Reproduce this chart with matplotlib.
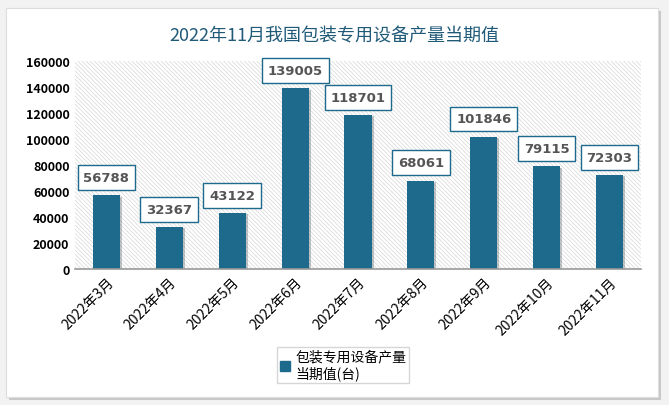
"""Build figure
"""
import matplotlib
matplotlib.use('Agg')
import matplotlib.pyplot as plt
import matplotlib.patches as mpatches
import matplotlib.patheffects as pe

plt.rcParams['font.family'] = ['Noto Sans CJK SC', 'DejaVu Sans']
plt.rcParams['hatch.linewidth'] = 0.5

months = ['2022年3月', '2022年4月', '2022年5月', '2022年6月', '2022年7月',
          '2022年8月', '2022年9月', '2022年10月', '2022年11月']
values = [56788, 32367, 43122, 139005, 118701, 68061, 101846, 79115, 72303]
yticks = [0, 20000, 40000, 60000, 80000, 100000, 120000, 140000, 160000]

bar_color = '#1d6a8d'

fig = plt.figure(figsize=(6.69, 4.06), dpi=100)
fig.patch.set_facecolor('#f2f2f2')
# white card with soft shadow
card = mpatches.Rectangle((6 / 669, 1 - 398 / 406), 652 / 669, 389 / 406,
                          transform=fig.transFigure, facecolor='white',
                          edgecolor='#dddddd', lw=0.8, zorder=-5,
                          path_effects=[pe.SimplePatchShadow(offset=(2, -2), alpha=0.25),
                                        pe.Normal()])
fig.patches.append(card)

ax = fig.add_axes([75 / 669, 1 - 270 / 406, 566 / 669, 208 / 406])
ax.set_zorder(1)
ax.set_facecolor('white')
# hatched plot area
bg = mpatches.Rectangle((0, 0), 1, 1, transform=ax.transAxes, facecolor='white',
                        edgecolor='#d6d6d6', hatch='\\' * 8, lw=0, zorder=0)
ax.add_patch(bg)

x = range(len(months))
bars = ax.bar(x, values, width=0.43, color=bar_color, zorder=2,
              path_effects=[pe.SimplePatchShadow(offset=(1.5, -1), alpha=0.25),
                            pe.Normal()])

for xi, v in zip(x, values):
    ax.annotate(str(v), (xi, v), xytext=(0, 8), textcoords='offset points',
                ha='center', va='bottom', fontsize=9.5, fontweight='bold',
                color='#555555', family='DejaVu Sans', zorder=4,
                bbox=dict(boxstyle='square,pad=0.45', facecolor='white',
                          edgecolor=bar_color, lw=1))

ax.set_xlim(-0.5, len(months) - 0.5)
ax.set_ylim(0, 160000)
ax.set_yticks(yticks)
ax.set_yticklabels([str(t) for t in yticks], fontsize=9, fontweight='bold')
ax.set_xticks(list(x))
ax.set_xticklabels(months, rotation=45, ha='right', rotation_mode='anchor',
                   fontsize=10)
ax.tick_params(length=0, pad=4)
for s in ['top', 'right', 'left']:
    ax.spines[s].set_visible(False)
ax.spines['bottom'].set_color('#999999')
ax.spines['bottom'].set_linewidth(1.2)

fig.text(0.5, 1 - 36 / 406, '2022年11月我国包装专用设备产量当期值', ha='center',
         va='center', fontsize=13, color='#1f5a78')

handle = mpatches.Patch(color=bar_color)
leg = fig.legend([handle], ['包装专用设备产量\n当期值(台)'], loc='center',
                 bbox_to_anchor=(343 / 669, 1 - 366 / 406), fontsize=10,
                 frameon=True, fancybox=False, handlelength=0.7,
                 handleheight=0.7, handletextpad=0.4, borderpad=0.2)
leg.get_frame().set_edgecolor('#cccccc')
leg.get_frame().set_linewidth(1)

fig.savefig('out.png', dpi=100, facecolor=fig.get_facecolor())
